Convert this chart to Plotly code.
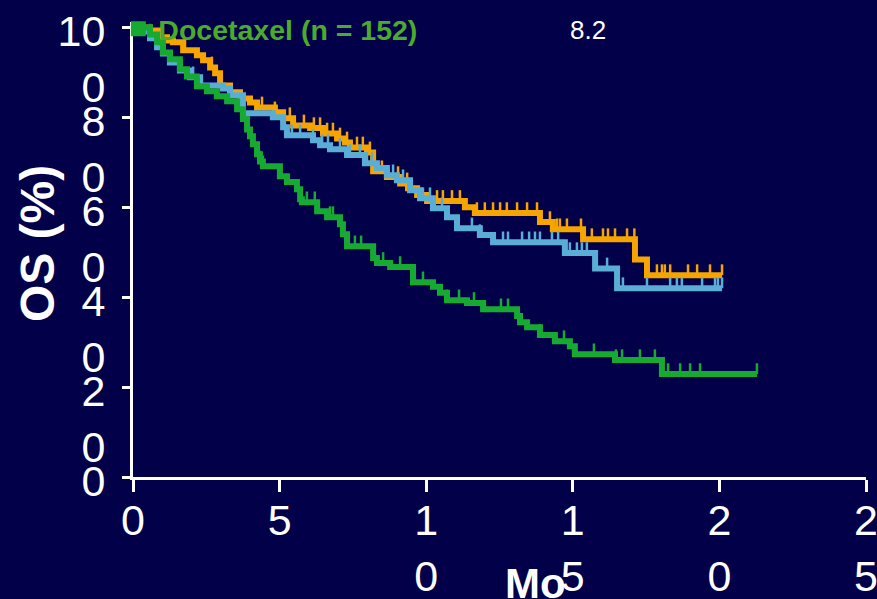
import plotly.graph_objects as go

# ---- data (months, OS %) ----
orange_t = [0, 0.58, 0.92, 1.16, 1.36, 1.71, 2.18, 2.39, 2.63, 2.8, 2.97, 3.31, 3.65, 3.99, 4.23, 4.84, 5.12,
            5.46, 6.04, 6.48, 6.96, 7.23, 7.4, 7.98, 8.19, 8.66, 9.11, 9.38, 9.69, 10.03, 11.32, 11.66, 13.88,
            14.32, 15.35, 17.12, 17.53]
orange_s = [100, 99.3, 97.8, 97.1, 96.7, 94.9, 93.8, 92.7, 91.1, 89.8, 87.1, 85.6, 84.2, 83.3, 82.2, 81.1, 79.8,
            78.2, 77.6, 76.4, 75.3, 74.4, 73.3, 72.2, 68, 66.7, 65.3, 64.2, 62.7, 61.4, 60, 58.7, 56.7,
            55.1, 52.9, 48.4, 44.9]
orange_end = 20.09
orange_cens = [1.77, 2.69, 4.4, 4.84, 5.35, 5.83, 6.17, 6.38, 6.62, 6.82, 7.06, 7.3, 7.64, 7.84, 8.08, 8.25, 8.49,
               9.04, 9.35, 10.37, 10.57, 10.88, 11.15, 11.73, 12.0, 12.28, 12.52, 12.75, 13.1, 13.44, 13.78,
               14.22, 14.46, 14.56, 14.8, 15.28, 15.65, 16.03, 16.2, 16.44, 16.85, 17.1, 17.87, 18.04, 18.14,
               18.32, 18.93, 19.24, 19.68, 20.09]

blue_t = [0, 0.14, 0.58, 0.82, 1.02, 1.26, 1.6, 1.94, 2.29, 3.07, 3.31, 3.75, 4.77, 5.12, 5.25, 6.14, 6.38,
          6.72, 7.3, 7.91, 8.32, 8.66, 9.0, 9.45, 9.79, 10.23, 10.71, 11.05, 11.83, 12.28, 14.73, 15.76, 16.51]
blue_s = [100, 99.1, 97.6, 95.6, 94.2, 92.2, 90.4, 88.9, 87.1, 86.4, 84.9, 80.9, 80, 77.8, 76, 74.9, 73.8,
          72.9, 71.6, 69.8, 68.7, 67.1, 66, 63.8, 62, 59.8, 57.8, 55.3, 53.8, 52.2, 49.8, 46.4, 42]
blue_end = 20.09
blue_cens = [2.05, 5.42, 5.7, 6.14, 6.45, 6.65, 7.06, 7.4, 7.74, 7.98, 8.15, 8.87, 9.21, 9.45, 9.89, 10.13,
             10.54, 11.56, 11.83, 12.62, 12.79, 13.27, 13.51, 13.71, 13.88, 14.29, 14.5, 14.9, 15.14, 15.31,
             15.48, 16.17, 16.71, 17.53, 18.32, 18.55, 18.72, 19.41, 19.85, 19.95, 20.09]

green_t = [0, 0.58, 0.82, 1.02, 1.26, 1.6, 1.84, 2.18, 2.52, 2.86, 3.21, 3.55, 3.75, 3.89, 3.99, 4.09, 4.23,
           4.33, 4.43, 5.01, 5.25, 5.59, 5.7, 5.76, 6.28, 6.62, 7.06, 7.16, 7.3, 8.19, 8.32, 8.77, 9.55, 10.23,
           10.47, 10.71, 11.39, 11.94, 13.1, 13.2, 13.44, 13.88, 14.39, 14.9, 15.07, 16.44, 18.04]
green_s = [100, 98.4, 96.7, 94.4, 92.9, 90.7, 89.1, 86.9, 85.8, 84.7, 83.6, 81.8, 79.6, 77.3, 75.8, 74, 71.8,
           70.2, 69.1, 66.9, 65.6, 64, 61.8, 61.1, 59.1, 57.8, 56.2, 54, 51.3, 48.7, 47.6, 46.7, 43.3, 42.3,
           41, 39.3, 38.7, 37.3, 35.8, 34.4, 33.3, 31.6, 30.2, 29.1, 27.3, 26, 22.9]
green_end = 21.28
green_cens = [0.58, 4.33, 4.43, 5.93, 6.2, 6.72, 6.82, 7.57, 7.78, 8.53, 9.11, 9.89, 10.71, 11.12, 11.63, 12.55,
              12.79, 13.88, 14.7, 15.72, 16.47, 16.68, 17.29, 17.8, 18.25, 18.66, 19.0, 19.34, 21.28]

x_ticks = [0, 5, 10, 15, 20, 25]
x_ticktext = ["0", "5", "1<br>0", "1<br>5", "2<br>0", "2<br>5"]
y_ticks = [0, 20, 40, 60, 80, 100]
# leading blank line keeps the first digit level with its tick (labels wrap downward)
y_ticktext = ["0", "&nbsp;<br>2<br>0", "&nbsp;<br>4<br>0", "&nbsp;<br>6<br>0", "&nbsp;<br>8<br>0",
              "&nbsp;<br>10<br>0"]

legend_name = "Docetaxel (n = 152)"
median_label = "8.2"

BG = "#020048"
ORANGE = "#f5a400"
BLUE = "#5aaed6"
GREEN = "#17aa32"
LEG_GREEN = "#4aab2c"
FONT = "Liberation Sans, Arial, sans-serif"


def surv_at(ts, ss, t):
    v = ss[0]
    for ti, si in zip(ts, ss):
        if ti <= t:
            v = si
    return v


fig = go.Figure()

for ts, ss, tend, cens, col in [
    (orange_t, orange_s, orange_end, orange_cens, ORANGE),
    (blue_t, blue_s, blue_end, blue_cens, BLUE),
    (green_t, green_s, green_end, green_cens, GREEN),
]:
    fig.add_trace(go.Scatter(
        x=ts + [tend], y=ss + [ss[-1]], mode="lines", line=dict(color=col, width=6, shape="hv"),
        showlegend=False, hoverinfo="skip"))
    fig.add_trace(go.Scatter(
        x=cens, y=[surv_at(ts, ss, c) for c in cens], mode="markers",
        marker=dict(size=1, color=col, opacity=0),
        error_y=dict(type="data", symmetric=False, array=[2.4] * len(cens), arrayminus=[0] * len(cens),
                     color=col, thickness=2.5, width=0),
        showlegend=False, hoverinfo="skip"))

fig.add_trace(go.Scatter(x=[None], y=[None], mode="markers", name=legend_name,
                         marker=dict(symbol="square", size=15, color=GREEN)))

fig.update_layout(
    width=877, height=599,
    margin=dict(l=133, r=11, t=22, b=122, autoexpand=False),
    paper_bgcolor=BG, plot_bgcolor=BG,
    font=dict(family=FONT, color="white"),
    showlegend=True,
    legend=dict(x=-0.02, y=1.04, xanchor="left", yanchor="top", bgcolor="rgba(0,0,0,0)",
                font=dict(size=28.5, color=LEG_GREEN, family=FONT, weight="bold"),
                itemwidth=30, tracegroupgap=0),
    xaxis=dict(range=[0, 25], tickvals=x_ticks, ticktext=x_ticktext, showgrid=False, zeroline=False,
               showline=True, linecolor="white", linewidth=3, ticks="outside", ticklen=12, tickwidth=3,
               tickcolor="white", tickfont=dict(size=43, color="white", family=FONT),
               automargin=False, ticklabeloverflow="allow", ticklabelstandoff=-9),
    yaxis=dict(range=[0, 101.2], tickvals=y_ticks, ticktext=y_ticktext, showgrid=False, zeroline=False,
               showline=True, linecolor="white", linewidth=3, ticks="outside", ticklen=8, tickwidth=3,
               tickcolor="white", tickfont=dict(size=43, color="white", family=FONT),
               automargin=False, ticklabeloverflow="allow", ticklabelstandoff=8, ticklabelshift=4),
    annotations=[
        dict(text="OS (%)", textangle=-90, x=-0.131, y=0.514, xref="paper", yref="paper",
             xanchor="center", yanchor="middle",
             showarrow=False, font=dict(size=48, color="white", family=FONT, weight="bold")),
        dict(text="Mo", x=0.549, y=-0.235, xref="paper", yref="paper", showarrow=False,
             xanchor="center", yanchor="middle",
             font=dict(size=42, color="white", family=FONT, weight="bold")),
        dict(text=median_label, x=0.621, y=0.982, xref="paper", yref="paper", showarrow=False,
             xanchor="center", yanchor="middle",
             font=dict(size=26, color="white", family=FONT)),
    ],
)

fig.write_html("out.html", config={"displayModeBar": False},
               post_script="document.body.style.margin='0';document.body.style.overflow='hidden';")
